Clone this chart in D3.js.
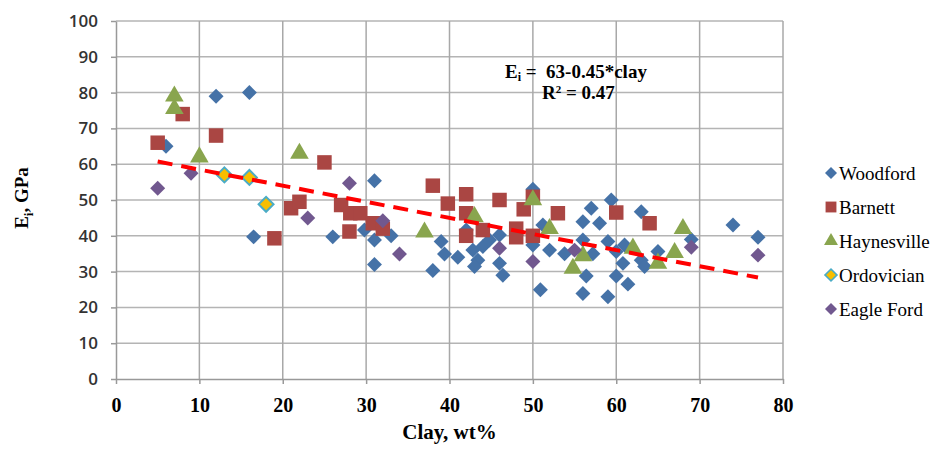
<!DOCTYPE html>
<html>
<head>
<meta charset="utf-8">
<script src="https://cdn.jsdelivr.net/npm/d3@7"></script>
<style>
  body { margin: 0; background: #fff; }
  .serif { font-family: "Liberation Serif", "Times New Roman", Tinos, "DejaVu Serif", serif; }
</style>
</head>
<body>
<svg id="chart" width="940" height="452"></svg>
<script>
// values, [clay wt%, Ei GPa]
var woodford = [[6,65],[12,79],[16,80],[16.5,39.7],[26,39.7],[31,55.4],[29.8,41.6],[31,38.8],[33,40],[31,32],
  [39,38.4],[39.4,34.9],[41,34],[38,30.3],[42,41.6],[42.8,36],[43.4,33.2],[43,31.4],[44,37],[44.8,38.8],
  [46,40.2],[46,32.3],[46.4,29],[50,53],[50,37.4],[52,36],[51.2,43],[50.9,24.9],[57,47.7],[59.4,50],
  [56,43.9],[58,43.5],[63,46.7],[74,43],[77,39.6],[69,39],[53.8,35],[56,38.8],[57.2,35],[59,38.4],
  [61,37.4],[60,35.6],[60.8,32.3],[56.4,28.8],[60,28.8],[61.4,26.5],[56,23.9],[59,23],[63,33.2],[63.4,31.4],[65,35.6]];
var barnett = [[5,66],[8,74],[12,68],[21,47.7],[22,49.5],[19,39.3],[25,60.5],[27,48.6],[28.1,46.3],[29.3,46.3],
  [28,41.2],[30.8,43.5],[32,42],[38,54],[39.8,49],[42,51.6],[42,46.3],[44,41.6],[42,40],[46,50],
  [48.9,47.4],[50,50.9],[48,42],[48,39.6],[50,40],[53,46.3],[60,46.5],[64,43.5]];
var haynesville = [[7,79],[7,75.5],[10,62],[22,63],[37,41],[43,45.3],[50,50],[52,42],[56,34.4],[54.8,30.9],
  [62,36.5],[65,32.3],[67,35.3],[68,42]];
var ordovician = [[13,57],[16,56.3],[18,48.8]];
var eagleFord = [[5,53.3],[9,57.5],[23,45],[28,54.7],[32,44.2],[34,34.9],[46,36.5],[50,32.8],[55,36],[69,36.8],[77,34.6]];

var xTicks = [0,10,20,30,40,50,60,70,80];
var yTicks = [0,10,20,30,40,50,60,70,80,90,100];
var trendX = [5, 77];   // fit: Ei = 63 - 0.45*clay

var series = [
  {name: "Woodford",   data: woodford,    shape: "diamond",  fill: "#4572A7", stroke: "none"},
  {name: "Barnett",    data: barnett,     shape: "square",   fill: "#AA4643", stroke: "none"},
  {name: "Haynesville",data: haynesville, shape: "triangle", fill: "#89A54E", stroke: "none"},
  {name: "Ordovician", data: ordovician,  shape: "diamond",  fill: "#F8BE00", stroke: "#4BACC6"},
  {name: "Eagle Ford", data: eagleFord,   shape: "diamond",  fill: "#71588F", stroke: "none"}
];

var svg = d3.select("#chart"),
    margin = {top: 21, left: 116, bottom: 73, right: 157},
    width = +svg.attr("width"),
    height = +svg.attr("height");

var x = d3.scaleLinear().domain([0, 80]).range([margin.left, width - margin.right]);
var y = d3.scaleLinear().domain([0, 100]).range([height - margin.bottom, margin.top]);

// grid
svg.append("g").selectAll("line").data(yTicks.slice(1)).enter().append("line")
  .attr("x1", x(0)).attr("x2", x(80))
  .attr("y1", d => y(d)).attr("y2", d => y(d))
  .attr("stroke", "#b4b4b4").attr("stroke-width", 1.5);
svg.append("g").selectAll("line").data(xTicks.slice(1)).enter().append("line")
  .attr("y1", y(0)).attr("y2", y(100))
  .attr("x1", d => x(d)).attr("x2", d => x(d))
  .attr("stroke", "#a8a8a8").attr("stroke-width", 1.5);

// axes
var yAxis = svg.append("g")
  .attr("transform", `translate(${x(0)},0)`)
  .call(d3.axisLeft(y).tickValues(yTicks).tickSize(5).tickPadding(13).tickSizeOuter(0));
yAxis.attr("font-family", "'Open Sans', sans-serif").attr("font-size", 17);
yAxis.selectAll("text").style("font-weight", "600").attr("fill", "#333");

var xAxis = svg.append("g")
  .attr("transform", `translate(0,${y(0)})`)
  .call(d3.axisBottom(x).tickValues(xTicks).tickSize(5).tickPadding(14).tickSizeOuter(0));
xAxis.attr("font-family", null).attr("font-size", 20).attr("class", "serif");
xAxis.selectAll("text").style("font-weight", "bold").attr("fill", "#000");

svg.selectAll(".domain, .tick line").attr("stroke", "#999").attr("stroke-width", 1.5);

// markers
var sym = {
  diamond: d3.symbol().type(d3.symbolSquare).size(112),
  square: d3.symbol().type(d3.symbolSquare).size(210),
  triangle: d3.symbol().type(d3.symbolTriangle).size(150)
};

function marker(sel, s) {
  sel.append("path")
    .attr("d", sym[s.shape]())
    .attr("fill", s.fill)
    .attr("stroke", s.stroke)
    .attr("stroke-width", s.stroke == "none" ? 0 : 2);
}

series.forEach(function(s) {
  var g = svg.append("g");
  s.data.forEach(function(d) {
    var m = g.append("g")
      .attr("transform", `translate(${x(d[0])},${y(d[1])})` + (s.shape == "diamond" ? " rotate(45)" : ""));
    marker(m, s);
  });
});

// trend line
svg.append("line")
  .attr("x1", x(trendX[0])).attr("y1", y(63 - 0.45 * trendX[0]))
  .attr("x2", x(trendX[1])).attr("y2", y(63 - 0.45 * trendX[1]))
  .attr("stroke", "#FF0000").attr("stroke-width", 4)
  .attr("stroke-dasharray", "15,9");

// annotation
var ann = svg.append("text").attr("class", "serif").attr("x", 505).attr("y", 78)
  .attr("font-size", 19).attr("font-weight", "bold")
  .attr("xml:space", "preserve");
ann.append("tspan").text("E");
ann.append("tspan").attr("dy", 3).attr("font-size", 12).text("i");
ann.append("tspan").attr("dy", -3).text(" =  63-0.45*clay");

var r2 = svg.append("text").attr("class", "serif").attr("x", 542).attr("y", 99)
  .attr("font-size", 19).attr("font-weight", "bold");
r2.append("tspan").text("R");
r2.append("tspan").attr("dy", -6).attr("font-size", 11).text("2");
r2.append("tspan").attr("dy", 6).text(" = 0.47");

// axis titles
svg.append("text").attr("class", "serif")
  .attr("x", x(40)).attr("y", 439)
  .attr("text-anchor", "middle")
  .attr("font-size", 21).attr("font-weight", "bold")
  .text("Clay, wt%");

var yt = svg.append("text").attr("class", "serif")
  .attr("transform", "translate(28,198) rotate(-90)")
  .attr("text-anchor", "middle")
  .attr("font-size", 19).attr("font-weight", "bold");
yt.append("tspan").text("E");
yt.append("tspan").attr("dy", 5).attr("font-size", 13).text("i");
yt.append("tspan").attr("dy", -5).text(", GPa");

// legend
var legend = svg.selectAll(".legend")
  .data(series)
  .enter().append("g")
  .attr("class", "legend")
  .attr("transform", (d, i) => `translate(831,${173 + i * 34})`);

legend.each(function(s) {
  var m = d3.select(this).append("g")
    .attr("transform", s.shape == "diamond" ? "rotate(45) scale(0.8)" : "scale(0.75)");
  marker(m, s);
});

legend.append("text")
  .attr("class", "serif")
  .attr("x", 8)
  .attr("dy", ".35em")
  .attr("font-size", 19)
  .text(d => d.name);
</script>
</body>
</html>
